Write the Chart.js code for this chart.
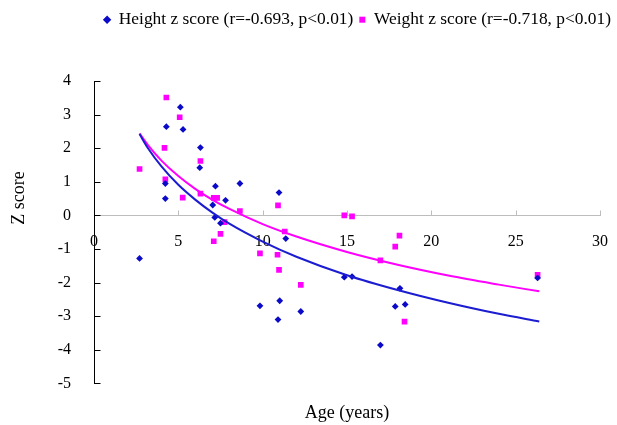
<!DOCTYPE html>
<html>
<head>
<meta charset="utf-8">
<script src="https://cdn.jsdelivr.net/npm/chart.js@4.4.1/dist/chart.umd.min.js"></script>
<style>
  html, body { margin: 0; padding: 0; background: #fff; }
  #wrap { width: 617px; height: 425px; }
</style>
</head>
<body>
<div id="wrap"><canvas id="c" width="617" height="425"></canvas></div>
<script>
// ---- data ----
const heightAge = [2.7, 4.29, 5.12, 5.28, 6.31, 6.27, 4.23, 4.23, 7.2, 7.04, 7.8, 8.65, 10.97, 7.16, 7.5, 11.37, 9.84, 11.01, 10.91, 12.26, 14.84, 15.3, 18.14, 17.86, 18.45, 16.98, 26.3];
const heightZ   = [-1.28, 2.64, 3.22, 2.56, 2.02, 1.42, 0.95, 0.50, 0.87, 0.31, 0.45, 0.95, 0.68, -0.06, -0.23, -0.69, -2.69, -2.54, -3.10, -2.86, -1.84, -1.82, -2.17, -2.71, -2.65, -3.86, -1.86];
const weightAge = [4.29, 5.08, 4.18, 2.70, 6.31, 4.23, 5.26, 6.31, 7.1, 7.3, 8.65, 10.91, 7.74, 7.5, 7.1, 14.84, 15.3, 11.31, 9.84, 10.88, 10.97, 12.26, 16.98, 18.11, 17.86, 18.41, 26.3];
const weightZ   = [3.51, 2.92, 2.01, 1.38, 1.62, 1.07, 0.53, 0.65, 0.52, 0.52, 0.13, 0.30, -0.20, -0.55, -0.77, 0.00, -0.03, -0.48, -1.13, -1.17, -1.62, -2.07, -1.34, -0.60, -0.93, -3.16, -1.77];
// trend curves
const fitAge    = [2.7, 3.2, 4, 5, 6, 7, 8, 10, 12, 15, 18, 21, 24, 26.4];
const heightFit = [2.42, 2.00, 1.46, 0.91, 0.47, 0.09, -0.24, -0.78, -1.23, -1.78, -2.22, -2.60, -2.93, -3.16];
const weightFit = [2.44, 2.09, 1.63, 1.17, 0.79, 0.47, 0.20, -0.26, -0.63, -1.09, -1.47, -1.79, -2.06, -2.26];
const xTicksMin = 0, xTicksMax = 30, xStep = 5;
const yTicksMin = -5, yTicksMax = 4, yStep = 1;
const legendLabels = ['Height z score (r=-0.693, p<0.01)', 'Weight z score (r=-0.718, p<0.01)'];
const xTitle = 'Age (years)';
const yTitle = 'Z score';

const BLUE = '#0a0ac8';
const MAGENTA = '#ff00ff';
const FONT = '"Liberation Serif", "Times New Roman", serif';

const pts = (xs, ys) => xs.map((x, i) => ({x: x, y: ys[i]}));

const decor = {
  id: 'decor',
  afterInit(chart) {
    const lg = chart.legend;
    if (lg) {
      const origFit = lg.fit;
      lg.fit = function () {
        origFit.call(this);
        this.height = 76;
      };
    }
  },
  beforeDatasetsDraw(chart) {
    const {ctx, scales: {x, y}} = chart;
    ctx.save();
    ctx.lineWidth = 1;
    const y0 = Math.round(y.getPixelForValue(0)) + 0.5;
    ctx.strokeStyle = '#bdbdbd';
    x.ticks.forEach(t => {
      if (t.value === 0) return;
      const px = Math.round(x.getPixelForValue(t.value)) + 0.5;
      ctx.beginPath(); ctx.moveTo(px, y0); ctx.lineTo(px, y0 - 5); ctx.stroke();
    });
    ctx.strokeStyle = '#000';
    const ax = Math.round(x.getPixelForValue(0)) + 0.5;
    y.ticks.forEach(t => {
      const py = Math.round(y.getPixelForValue(t.value)) + 0.5;
      ctx.beginPath(); ctx.moveTo(ax, py); ctx.lineTo(ax + 6, py); ctx.stroke();
    });
    ctx.restore();
  },
  afterDraw(chart) {
    const {ctx, chartArea} = chart;
    ctx.save();
    ctx.fillStyle = '#000';
    ctx.font = '18px ' + FONT;
    ctx.textAlign = 'center';
    ctx.textBaseline = 'middle';
    ctx.translate(19, chartArea.top + 117);
    ctx.rotate(-Math.PI / 2);
    ctx.fillText(yTitle, 0, 0);
    ctx.restore();
  }
};

new Chart(document.getElementById('c'), {
  type: 'scatter',
  data: {
    datasets: [
      { label: legendLabels[0], data: pts(heightAge, heightZ), pointStyle: 'rectRot', pointRadius: 3.4,
        backgroundColor: BLUE, borderColor: BLUE, borderWidth: 0, order: 3 },
      { label: legendLabels[1], data: pts(weightAge, weightZ), pointStyle: 'rect', pointRadius: 4,
        backgroundColor: MAGENTA, borderColor: MAGENTA, borderWidth: 0, order: 4 },
      { label: 'hfit', type: 'line', data: pts(fitAge, heightFit), showLine: true, pointRadius: 0,
        borderColor: '#1c1cd0', borderWidth: 2, cubicInterpolationMode: 'monotone', fill: false, order: 1 },
      { label: 'wfit', type: 'line', data: pts(fitAge, weightFit), showLine: true, pointRadius: 0,
        borderColor: MAGENTA, borderWidth: 2, cubicInterpolationMode: 'monotone', fill: false, order: 2 }
    ]
  },
  options: {
    responsive: false,
    animation: false,
    events: [],
    layout: { padding: { top: 5, left: 0, right: 0, bottom: 0 } },
    plugins: {
      tooltip: { enabled: false },
      legend: {
        position: 'top',
        align: 'end',
        labels: {
          usePointStyle: true,
          boxWidth: 6,
          boxHeight: 6,
          padding: 6,
          color: '#000',
          font: { family: FONT, size: 17.4 },
          filter: item => item.datasetIndex < 2
        }
      },
      title: {
        display: true,
        text: xTitle,
        position: 'bottom',
        fullSize: false,
        color: '#000',
        font: { family: FONT, size: 18, weight: 'normal' },
        padding: { top: 19, bottom: 1 }
      }
    },
    scales: {
      x: {
        type: 'linear',
        position: { y: 0 },
        min: xTicksMin, max: xTicksMax,
        grid: { display: false },
        border: { display: true, color: '#bdbdbd', width: 1 },
        ticks: { stepSize: xStep, padding: 9, color: '#000', font: { family: FONT, size: 16 }, maxRotation: 0 }
      },
      y: {
        type: 'linear',
        position: 'left',
        min: yTicksMin, max: yTicksMax,
        grid: { display: false },
        border: { display: true, color: '#000', width: 1 },
        ticks: { stepSize: yStep, padding: 15, color: '#000', font: { family: FONT, size: 16 } },
        afterFit: s => { s.width = 94; }
      },
      y2: {
        type: 'linear',
        position: 'right',
        display: true,
        grid: { display: false },
        border: { display: false },
        ticks: { display: false },
        afterFit: s => { s.width = 16; }
      }
    }
  },
  plugins: [decor]
});
</script>
</body>
</html>
